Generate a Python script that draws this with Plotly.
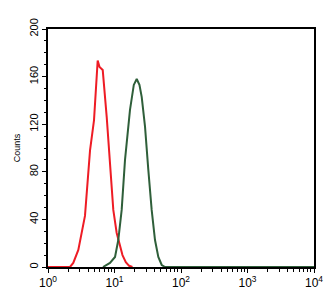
import plotly.graph_objects as go

# log10 of fluorescence intensity and counts
red_logx = [0.0, 0.2, 0.331, 0.38, 0.456, 0.556, 0.59, 0.632, 0.692, 0.722, 0.747, 0.775, 0.823, 0.883, 0.932, 0.982, 1.033, 1.072, 1.12, 1.17, 1.22, 1.27]
red_counts = [0, 0, 0, 3.4, 14.3, 42.9, 65, 98, 123.5, 157, 173.5, 168, 165.5, 126, 84, 48, 28.6, 20, 10, 4, 1, 0]
green_logx = [0.827, 0.932, 1.008, 1.057, 1.108, 1.158, 1.233, 1.29, 1.334, 1.375, 1.409, 1.459, 1.508, 1.559, 1.609, 1.659, 1.71, 1.76, 2.5, 3.3, 4.0]
green_counts = [0, 3.4, 8.4, 22.7, 48, 90, 132, 153, 158, 153, 143, 118, 82, 48, 22.7, 8.4, 1.7, 0, 0, 0, 0]

x_tick_vals = [1, 10, 100, 1000, 10000]
x_tick_text = ["10<sup>0</sup>", "10<sup>1</sup>", "10<sup>2</sup>", "10<sup>3</sup>", "10<sup>4</sup>"]
y_tick_vals = [0, 40, 80, 120, 160, 200]

red_x = [10 ** v for v in red_logx]
green_x = [10 ** v for v in green_logx]
minor_vals = [m * 10 ** k for k in range(4) for m in range(2, 10)]

fig = go.Figure()
fig.add_trace(go.Scatter(x=red_x, y=red_counts, mode="lines",
                         line=dict(color="#ee1c25", width=2), showlegend=False))
fig.add_trace(go.Scatter(x=green_x, y=green_counts, mode="lines",
                         line=dict(color="#2f5f3a", width=2), showlegend=False))

fig.update_layout(
    width=327, height=300,
    margin=dict(l=48, r=13, t=29, b=33),
    paper_bgcolor="white", plot_bgcolor="white",
    font=dict(family="Liberation Sans, Arial, sans-serif", color="black"),
)
fig.update_xaxes(
    type="log", range=[0, 4], automargin=False,
    tickmode="array", tickvals=x_tick_vals, ticktext=x_tick_text,
    ticks="outside", ticklen=4, tickwidth=1, tickcolor="black",
    minor=dict(ticks="outside", ticklen=3, tickcolor="black", tickvals=minor_vals),
    showline=True, linecolor="black", linewidth=1.5, mirror=True,
    showgrid=False, zeroline=False,
    tickfont=dict(size=12),
)
fig.update_yaxes(
    range=[0, 200], automargin=False,
    tickmode="array", tickvals=y_tick_vals,
    ticks="outside", ticklen=4, tickwidth=1, tickcolor="black",
    minor=dict(ticks="outside", ticklen=2, tickcolor="black", dtick=10),
    showline=True, linecolor="black", linewidth=1.5, mirror=True,
    showgrid=False, zeroline=False,
    tickangle=-90, tickfont=dict(size=11),
    title=dict(text="Counts", font=dict(size=9), standoff=6),
)

fig.write_html("out.html")
